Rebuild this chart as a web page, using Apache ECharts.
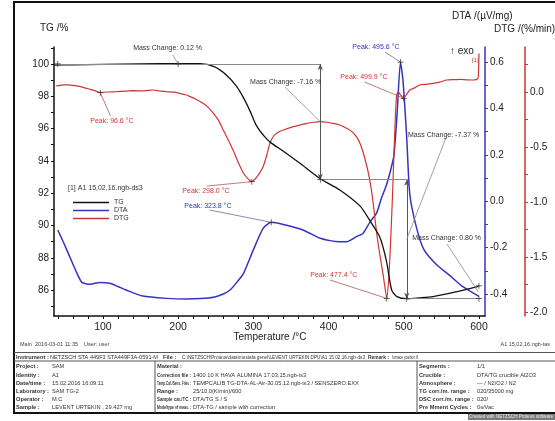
<!DOCTYPE html>
<html><head><meta charset="utf-8">
<script src="https://cdn.jsdelivr.net/npm/echarts@6/dist/echarts.min.js"></script>
<style>html,body{margin:0;padding:0;background:#fff}#c{width:555px;height:421px}</style>
</head><body><div id="c"></div>
<script>
// ---- axis ticks ----
const xLabels = [100,200,300,400,500,600];
const xTicks = [40,60,80,100,120,140,160,180,200,220,240,260,280,300,320,340,360,380,400,420,440,460,480,500,520,540,560,580,600];
const tgLabels = [86,88,90,92,94,96,98,100];
const tgTicks = [85,86,87,88,89,90,91,92,93,94,95,96,97,98,99,100,101];
const dtaLabels = [-0.4,-0.2,0.0,0.2,0.4,0.6];
const dtaTicks = [-0.4,-0.3,-0.2,-0.1,0.0,0.1,0.2,0.3,0.4,0.5,0.6];
const dtgLabels = [-2.0,-1.5,-1.0,-0.5,0.0];
const dtgTicks = [-2.0,-1.75,-1.5,-1.25,-1.0,-0.75,-0.5,-0.25,0.0,0.25];

// ---- TG (%) ----
const tgT = [35,60,100,150,200,229,248,264,278,287,296,304,315,324,340,362,389,415,442,455,468,477,484,491,504,520,539,570,597,600];
const tgV = [99.93,99.95,99.97,100.0,100.02,100.02,99.83,99.32,98.6,97.9,97.05,96.2,95.5,95.1,94.6,93.85,92.9,92.2,91.2,90.3,89.3,87.8,86.0,85.6,85.47,85.52,85.6,85.9,86.2,86.27];

// ---- DTA (uV/mg) ----
const dtaT = [40,48,56,64,72,83,96,109,120,131,153,185,211,230,247,260,269,278,287,300,313,324,340,366,389,402,415,424,437,446,455,464,470,477,483,487,491,495.6,499,504,508,517,527,544,561,577,592,600];
const dtaV = [-0.124,-0.18,-0.24,-0.3,-0.35,-0.358,-0.35,-0.354,-0.368,-0.383,-0.409,-0.419,-0.422,-0.42,-0.414,-0.4,-0.383,-0.35,-0.311,-0.21,-0.117,-0.091,-0.1,-0.124,-0.16,-0.17,-0.175,-0.175,-0.153,-0.138,-0.09,-0.05,0.01,0.07,0.14,0.2,0.37,0.6,0.52,0.27,0.03,-0.115,-0.21,-0.275,-0.32,-0.365,-0.395,-0.41];

// ---- DTG (%/min) ----
const dtgT = [38,45,52,65,75,83,90,96.6,105,118,130,140,155,167,175,185,195,202,210,216,225,233,240,247,254,260,267,273,280,287,293,298,305,313,318,322,327,333,340,353,362,371,380,389,398,406,415,424,431,437,442,446,450,453,457,460,464,468,473,477.4,480,482,485,487,489,490.5,492.7,495,499.9,504,508,515,521,530,539,548,557,566,575,584,592,597,599,600];
const dtgV = [0.055,0.062,0.064,0.055,0.04,0.024,0.01,-0.006,0.0,0.003,0.008,0.012,0.01,0.018,0.01,0.003,-0.002,-0.012,-0.025,-0.042,-0.07,-0.103,-0.14,-0.194,-0.26,-0.345,-0.44,-0.527,-0.64,-0.739,-0.79,-0.815,-0.77,-0.679,-0.57,-0.466,-0.4,-0.365,-0.345,-0.315,-0.3,-0.285,-0.275,-0.27,-0.275,-0.285,-0.3,-0.33,-0.36,-0.406,-0.47,-0.55,-0.65,-0.739,-0.89,-1.05,-1.285,-1.47,-1.68,-1.876,-1.7,-1.44,-0.95,-0.55,-0.2,-0.027,0.003,-0.02,-0.057,-0.02,0.018,0.04,0.064,0.07,0.079,0.09,0.109,0.112,0.115,0.11,0.109,0.115,0.13,0.35];

// ---- mass change annotations (TG units) ----
const massText = ['Mass Change: 0.12 %','Mass Change: -7.16 %','Mass Change: -7.37 %','Mass Change: 0.80 %'];
const massAt = [[186,101.0],[343,98.89],[553,95.6],[557,89.23]];
const massFrom = [[193,100.56],[342,98.58],[556,95.42],[557.5,88.85]];
const massTo = [[200,100.0],[389,96.42],[504,89.16],[599,85.9]];
const refH = [[[40,100.0],[389,100.0]],[[389,92.84],[505,92.84]],[[504,85.47],[600,85.47]]];
const refV = [[[389,100.0],[389,92.84]],[[504,92.84],[504,85.47]]];
const tgCross = [[40,100.0],[200,100.0],[389,92.84],[504,85.47],[600,85.47],[600,86.27]];

// ---- peak annotations ----
const dtgPeakText = ['Peak: 96.6 °C','Peak: 298.0 °C','Peak: 499.9 °C','Peak: 477.4 °C'];
const dtgPeakAt = [[112,-0.264],[237,-0.9],[447,0.136],[407,-1.664]];
const dtgPeakFrom = [[110,-0.218],[238,-0.855],[448,0.091],[402,-1.709]];
const dtgPeakTo = [[96.6,-0.006],[298,-0.815],[499.9,-0.057],[477.4,-1.876]];
const dtaPeakText = ['Peak: 323.8 °C','Peak: 495.6 °C'];
const dtaPeakAt = [[239.6,-0.021],[463,0.665]];
const dtaPeakFrom = [[242,-0.038],[475,0.643]];
const dtaPeakTo = [[323.8,-0.091],[495.6,0.6]];

const zip = (a,b)=>a.map((v,i)=>[v,b[i]]);
const FONT = 'Liberation Sans, Arial, sans-serif';
const BLACK='#111', BLUE='#3434c4', RED='#d23434', GREY='#8a8a8a';
const CROSS = 'path://M-0.12,-1H0.12V-0.12H1V0.12H0.12V1H-0.12V0.12H-1V-0.12H-0.12Z';

function labelPoints(texts, at, color){
  return texts.map((t,i)=>({coord:at[i], symbol:'circle', symbolSize:1,
    itemStyle:{color:'rgba(0,0,0,0)'},
    label:{show:true, position:'inside', formatter:t, color:color, fontSize:7, fontFamily:FONT}}));
}
function crossPoints(pts, color){
  return pts.map(p=>({coord:p, symbol:CROSS, symbolSize:6, itemStyle:{color:color}, label:{show:false}}));
}
function segs(from,to){ return from.map((f,i)=>[{coord:f},{coord:to[i]}]); }

const chart = echarts.init(document.getElementById('c'), null, {renderer:'canvas'});

function yAxisCommon(color, labels, ticks, fmt){
  return {
    type:'value', splitLine:{show:false},
    axisLine:{show:true, lineStyle:{color:color, width:1.5}},
    axisTick:{show:true, length:3, inside:false, customValues:ticks, lineStyle:{color:color}},
    axisLabel:{customValues:labels, color:'#222', fontSize:10, fontFamily:FONT, margin:5, formatter:fmt},
  };
}

const option = {
  animation:false,
  backgroundColor:'#fff',
  textStyle:{fontFamily:FONT},
  grid:{left:54, right:70, top:47, bottom:105, containLabel:false},
  legend:{
    data:['TG','DTA','DTG'], orient:'vertical', left:68, top:194,
    itemWidth:36, itemHeight:1.5, itemGap:1, icon:'rect',
    textStyle:{fontSize:7, color:'#333', fontFamily:FONT, lineHeight:7},
    selectedMode:false
  },
  xAxis:{
    type:'value', min:35, max:608, splitLine:{show:false},
    axisLine:{show:true, onZero:false, lineStyle:{color:BLACK, width:1.5}},
    axisTick:{show:true, length:3, customValues:xTicks, lineStyle:{color:BLACK}},
    axisLabel:{customValues:xLabels, color:'#222', fontSize:10.5, fontFamily:FONT, margin:6}
  },
  yAxis:[
    Object.assign(yAxisCommon(BLACK, tgLabels, tgTicks, v=>String(v)), {min:84.4, max:101.05, position:'left'}),
    Object.assign(yAxisCommon(BLUE, dtaLabels, dtaTicks, v=>v.toFixed(1)), {min:-0.495, max:0.665, position:'right', offset:0}),
    Object.assign(yAxisCommon(RED, dtgLabels, dtgTicks, v=>v.toFixed(1)), {min:-2.036, max:0.409, position:'right', offset:40})
  ],
  series:[
    {
      name:'TG', type:'line', yAxisIndex:0, data:zip(tgT,tgV), showSymbol:false, smooth:0.25,
      color:BLACK, lineStyle:{color:BLACK, width:1.3}, z:3,
      markLine:{silent:true, animation:false, symbol:['none','none'], label:{show:false},
        data:[
          ...refH.map(s=>[{coord:s[0], lineStyle:{color:GREY,width:1,type:'solid'}},{coord:s[1]}]),
          ...refV.map(s=>[{coord:s[0], symbol:'arrow', symbolSize:[4,6], lineStyle:{color:'#555',width:1,type:'solid'}},{coord:s[1], symbol:'arrow', symbolSize:[4,6]}]),
          ...segs(massFrom, massTo).map(s=>{s[0].lineStyle={color:GREY,width:0.8,type:'solid'}; return s;})
        ]},
      markPoint:{silent:true, animation:false, data:[...labelPoints(massText, massAt, '#333'), ...crossPoints(tgCross, '#333')]}
    },
    {
      name:'DTA', type:'line', yAxisIndex:1, data:zip(dtaT,dtaV), showSymbol:false, smooth:0.2,
      color:BLUE, lineStyle:{color:BLUE, width:1.5}, z:2,
      markLine:{silent:true, animation:false, symbol:['none','none'], label:{show:false},
        data:segs(dtaPeakFrom, dtaPeakTo).map(s=>{s[0].lineStyle={color:'#6a6ab0',width:0.8,type:'solid'}; return s;})},
      markPoint:{silent:true, animation:false, data:[...labelPoints(dtaPeakText, dtaPeakAt, BLUE), ...crossPoints(dtaPeakTo, '#333')]}
    },
    {
      name:'DTG', type:'line', yAxisIndex:2, data:zip(dtgT,dtgV), showSymbol:false, smooth:0.15,
      color:RED, lineStyle:{color:RED, width:1.2}, z:2,
      markLine:{silent:true, animation:false, symbol:['none','none'], label:{show:false},
        data:segs(dtgPeakFrom, dtgPeakTo).map(s=>{s[0].lineStyle={color:'#b05a5a',width:0.8,type:'solid'}; return s;})},
      markPoint:{silent:true, animation:false, data:[...labelPoints(dtgPeakText, dtgPeakAt, RED),
        ...labelPoints(['[1]'], [[595,0.29]], RED).map(d=>{d.label.fontSize=6; return d;}),
        ...crossPoints(dtgPeakTo, '#333')]}
    }
  ],
  graphic:[]
};

// ---- page texts, frame and info table ----
const G = [];
const mctx = document.createElement('canvas').getContext('2d');
function txt(x,y,t,opt){
  opt=opt||{};
  const font=(opt.bold?'bold ':'')+(opt.size||10)+'px '+FONT;
  let s=1;
  if(opt.maxW){ mctx.font=font; const w=mctx.measureText(t).width; if(w>opt.maxW) s=opt.maxW/w; }
  G.push({type:'text', silent:true, z:10, x:x, y:y, scaleX:s, scaleY:1,
    style:{x:0, y:0, text:t, fill:opt.fill||'#222', font:font, align:opt.align||'left', verticalAlign:'middle'}});
}
function ln(x1,y1,x2,y2,w,c){ G.push({type:'line', silent:true, z:9, shape:{x1:x1,y1:y1,x2:x2,y2:y2}, style:{stroke:c||'#333', lineWidth:w||1}}); }

G.push({type:'rect', silent:true, z:8, shape:{x:14,y:2,width:560,height:411}, style:{fill:null, stroke:'#111', lineWidth:2}});
txt(40,28,'TG /%',{size:10});
txt(452,16,'DTA /(µV/mg)',{size:10});
txt(494,29,'DTG /(%/min)',{size:10});
txt(450,51,'↑ exo',{size:10});
txt(270,337,'Temperature /°C',{size:10,align:'center'});
txt(68,188,'[1] A1 15,02,16.ngb-ds3',{size:7,fill:'#333'});
txt(20,344,'Main  2016-03-01 11:35    User: user',{size:5.5,fill:'#444'});
txt(550,344,'A1 15,02,16.ngb-tas',{size:5.5,fill:'#444',align:'right'});

// table
const infoHeader = [['Instrument :',16,true,33],['NETZSCH STA 449F3 STA449F3A-0591-M',50,false,108],['File :',163,true,15],['C:\\NETZSCH\\Proteus\\data\\mustafa genel\\LEVENT URTEKIN DPU\\A1 15.02.16.ngb-ds3',182,false,183],['Remark :',368,true,21],['furnace position 8',392,false,26]];
const colLeftK = ['Project :','Identity :','Date/time :','Laboratory :','Operator :','Sample :'];
const colLeftV = ['SAM','A1','15.02.2016 16:09:11','SAM TG-2','M.C','LEVENT URTEKIN , 29.427 mg'];
const colMidK = ['Material :','Correction file :','Temp.Cal./Sens. Files :','Range :','Sample car./TC :','Mode/type of meas. :'];
const colMidV = ['','1400 10 K HAVA ALUMINA 17,03,15.ngb-ts3','TEMPCALIB TG-DTA-AL-Air-30.05.12.ngb-ts3 / SENSZERO.EXX','25/10.0(K/min)/600','DTA/TG S / S','DTA-TG / sample with correction'];
const colRightK = ['Segments :','Crucible :','Atmosphere :','TG corr./m. range :','DSC corr./m. range :','Pre Mment Cycles :'];
const colRightV = ['1/1','DTA/TG crucible Al2O3','--- / N2/O2 / N2','020/35000 mg','020/','0s/Vac'];

ln(14,352.5,555,352.5,1,'#555');
ln(14,361,555,361,1,'#555');
ln(155,361,155,413,1,'#555');
ln(417,361,417,413,1,'#555');
infoHeader.forEach(h=>txt(h[1],357,h[0],{size:5.7,bold:h[2],fill:'#333',maxW:h[3]}));
const rowY = [366.7,375,383,391.3,399.3,407.3];
rowY.forEach((y,i)=>{
  txt(16,y,colLeftK[i],{size:5.7,bold:true,fill:'#333',maxW:33});
  txt(52,y,colLeftV[i],{size:5.7,fill:'#333',maxW:100});
  txt(157,y,colMidK[i],{size:5.7,bold:true,fill:'#333',maxW:34});
  txt(193,y,colMidV[i],{size:5.7,fill:'#333',maxW:210});
  txt(419,y,colRightK[i],{size:5.7,bold:true,fill:'#333',maxW:55});
  txt(477,y,colRightV[i],{size:5.7,fill:'#333',maxW:75});
});
G.push({type:'rect', silent:true, z:8, shape:{x:468,y:414,width:90,height:6}, style:{fill:'#7a7a7a'}});
txt(553,417,'Created with NETZSCH Proteus software',{size:5,fill:'#eee',align:'right',maxW:84});

option.graphic = G;
chart.setOption(option);
</script>
</body></html>
